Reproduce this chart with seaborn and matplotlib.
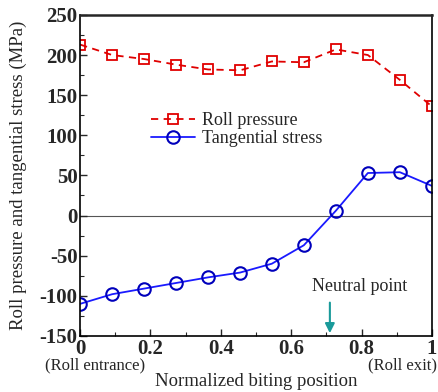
import matplotlib
matplotlib.use("Agg")
from matplotlib import pyplot as plt
from matplotlib.ticker import MultipleLocator, FuncFormatter
import pandas
import seaborn

# normalized biting position (12 evenly spaced stations)
positions = [0.0, 0.091, 0.182, 0.273, 0.364, 0.455, 0.545, 0.636, 0.727, 0.818, 0.909, 1.0]
roll_pressure = [213, 200, 195, 188, 182, 181, 192, 191, 207, 200, 169, 136]
tangential_stress = [-110, -98, -91, -84, -77, -71, -60, -37, 6, 53, 54, 37]
neutral_x = 0.71

frame = pandas.DataFrame({
    "x": positions,
    "Roll pressure": roll_pressure,
    "Tangential stress": tangential_stress,
})

seaborn.set_theme(style="ticks")
plt.rcParams['font.family'] = ['Liberation Serif', 'DejaVu Serif']
plt.rcParams['axes.unicode_minus'] = False

fig, ax = plt.subplots(figsize=(4.38, 3.92), dpi=100)
fig.subplots_adjust(left=0.183, right=0.986, top=0.962, bottom=0.143)

seaborn.lineplot(data=frame, x="x", y="Roll pressure", ax=ax, color="#e00000",
                 linestyle=(0, (4, 3)), linewidth=1.3, marker="s", markersize=7,
                 markerfacecolor="none", markeredgecolor="#e00000", markeredgewidth=1.3,
                 label="Roll pressure")
seaborn.lineplot(data=frame, x="x", y="Tangential stress", ax=ax, color="#1a1aff",
                 linewidth=1.3, marker="o", markersize=9,
                 markerfacecolor="none", markeredgecolor="#0000bb", markeredgewidth=1.5,
                 label="Tangential stress")

ax.axhline(0, color="#555555", linewidth=0.8, zorder=0)

ax.set_xlim(0, 1)
ax.set_ylim(-150, 250)
ax.xaxis.set_major_locator(MultipleLocator(0.2))
ax.xaxis.set_minor_locator(MultipleLocator(0.1))
ax.yaxis.set_major_locator(MultipleLocator(50))
ax.yaxis.set_minor_locator(MultipleLocator(25))
ax.xaxis.set_major_formatter(FuncFormatter(lambda v, p: "%g" % round(v, 1)))
ax.tick_params(which="both", direction="in", top=False, right=False)
ax.tick_params(which="major", length=5, width=1, labelsize=15, pad=2)
ax.tick_params(which="minor", length=3, width=0.8)
for lab in ax.get_xticklabels() + ax.get_yticklabels():
    lab.set_fontweight("bold")

for side in ["left", "bottom", "right"]:
    ax.spines[side].set_linewidth(1.2)
    ax.spines[side].set_color("black")
ax.spines["top"].set_linewidth(1.8)
ax.spines["top"].set_visible(True)
ax.spines["right"].set_visible(True)

ax.set_xlabel("Normalized biting position", fontsize=13.5)
ax.xaxis.set_label_coords(0.5, -0.115)
ax.xaxis.label.set_va("top")
ax.set_ylabel("Roll pressure and tangential stress (MPa)", fontsize=13.5)
ax.yaxis.set_label_coords(-0.152, 0.5)

ax.text(0.043, -0.066, "(Roll entrance)", transform=ax.transAxes, fontsize=12, ha="center", va="top")
ax.text(1.014, -0.066, "(Roll exit)", transform=ax.transAxes, fontsize=12, ha="right", va="top")

ax.annotate("", xy=(neutral_x, -150), xytext=(neutral_x, -105),
            arrowprops=dict(arrowstyle="-|>", color="#1a9a9a", lw=1.5, mutation_scale=14))
ax.text(0.795, -88, "Neutral point", fontsize=13, ha="center", va="center")

leg = ax.legend(loc="upper left", bbox_to_anchor=(0.156, 0.748), frameon=False,
                fontsize=13, handlelength=2.4, handletextpad=0.4, labelspacing=0.05)

fig.savefig("out.png", dpi=100)
